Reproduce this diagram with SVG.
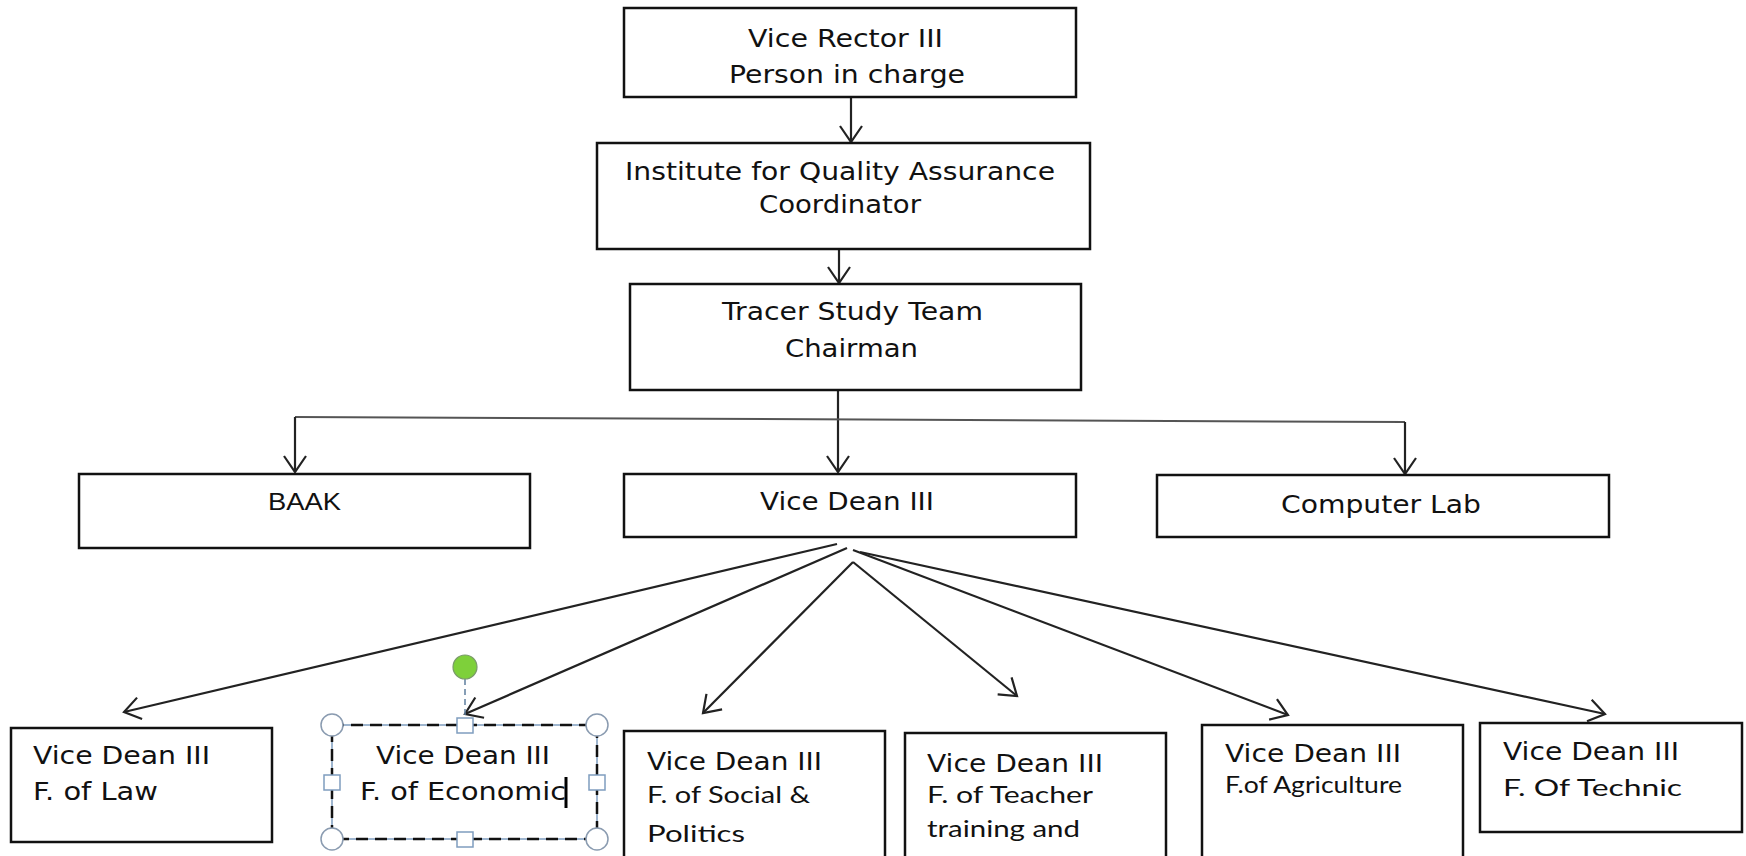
<svg xmlns="http://www.w3.org/2000/svg" width="1746" height="856" viewBox="0 0 1746 856" xml:space="preserve">
<style>
.box{fill:#fff;stroke:#111;stroke-width:2.5}
.t{font-family:"DejaVu Sans",Verdana,sans-serif;font-size:24px;fill:#111}
.c{font-family:Lato,"Open Sans",sans-serif;font-size:23px;fill:#111}
.a{font-family:"Liberation Sans",Arial,sans-serif;font-size:24px;fill:#111}
.ln{fill:none;stroke:#222;stroke-width:2.2}
.h{fill:#fff;stroke:#8a9bb0;stroke-width:1.5}
</style>
<defs>
<marker id="arr" markerUnits="userSpaceOnUse" markerWidth="22" markerHeight="28" viewBox="0 0 22 28" refX="19" refY="14" orient="auto">
<path d="M3,3 L19,14 L3,25" fill="none" stroke="#222" stroke-width="2.2"/>
</marker>
</defs>
<rect width="1746" height="856" fill="#fff"/>
<g id="connectors">
<line class="ln" x1="851" y1="97" x2="851" y2="142" marker-end="url(#arr)"/>
<line class="ln" x1="839" y1="249" x2="839" y2="283" marker-end="url(#arr)"/>
<line class="ln" x1="838" y1="390" x2="838" y2="472" marker-end="url(#arr)"/>
<path d="M295,417 L1405,422" fill="none" stroke="#555" stroke-width="2"/>
<line class="ln" x1="295" y1="417" x2="295" y2="472" marker-end="url(#arr)"/>
<line class="ln" x1="1405" y1="422" x2="1405" y2="474" marker-end="url(#arr)"/>
<line class="ln" x1="837" y1="544" x2="124" y2="712" marker-end="url(#arr)"/>
<line class="ln" x1="847" y1="548" x2="465" y2="714" marker-end="url(#arr)"/>
<line class="ln" x1="853" y1="562" x2="703" y2="713" marker-end="url(#arr)"/>
<line class="ln" x1="853" y1="562" x2="1017" y2="696" marker-end="url(#arr)"/>
<line class="ln" x1="853" y1="550" x2="1288" y2="715" marker-end="url(#arr)"/>
<line class="ln" x1="860" y1="552" x2="1605" y2="714" marker-end="url(#arr)"/>
</g>
<g id="vice-rector">
<rect class="box" x="624" y="8" width="452" height="89"/>
<text class="t" x="748" y="47" textLength="195" lengthAdjust="spacingAndGlyphs">Vice Rector  III</text>
<text class="t" x="729" y="83" textLength="236" lengthAdjust="spacingAndGlyphs">Person  in charge</text>
</g>
<g id="institute">
<rect class="box" x="597" y="143" width="493" height="106"/>
<text class="t" x="625" y="180" textLength="430" lengthAdjust="spacingAndGlyphs">Institute for Quality Assurance</text>
<text class="t" x="759" y="213" textLength="162" lengthAdjust="spacingAndGlyphs">Coordinator</text>
</g>
<g id="tracer">
<rect class="box" x="630" y="284" width="451" height="106"/>
<text class="t" x="722" y="320" textLength="261" lengthAdjust="spacingAndGlyphs">Tracer Study Team</text>
<text class="t" x="785" y="357" textLength="133" lengthAdjust="spacingAndGlyphs">Chairman</text>
</g>
<g id="baak">
<rect class="box" x="79" y="474" width="451" height="74"/>
<text class="a" x="268" y="510" textLength="73" lengthAdjust="spacingAndGlyphs">BAAK</text>
</g>
<g id="vice-dean">
<rect class="box" x="624" y="474" width="452" height="63"/>
<text class="t" x="760" y="510" textLength="174" lengthAdjust="spacingAndGlyphs">Vice Dean  III</text>
</g>
<g id="computer-lab">
<rect class="box" x="1157" y="475" width="452" height="62"/>
<text class="t" x="1281" y="513" textLength="200" lengthAdjust="spacingAndGlyphs">Computer  Lab</text>
</g>
<g id="law">
<rect class="box" x="11" y="728" width="261" height="114"/>
<text class="t" x="33" y="764" textLength="177" lengthAdjust="spacingAndGlyphs">Vice Dean  III</text>
<text class="t" x="33" y="800" textLength="125" lengthAdjust="spacingAndGlyphs">F. of Law</text>
</g>
<g id="economic">
<rect x="332" y="725" width="265" height="114" fill="#fff" stroke="#7f9dbf" stroke-width="1.5"/>
<rect x="332" y="725" width="265" height="114" fill="none" stroke="#111" stroke-width="2.5" stroke-dasharray="12,7"/>
<text class="t" x="376" y="764" textLength="174" lengthAdjust="spacingAndGlyphs">Vice Dean  III</text>
<text class="t" x="360" y="800" textLength="206" lengthAdjust="spacingAndGlyphs">F. of Economic</text>
<line x1="566" y1="777" x2="566" y2="808" stroke="#000" stroke-width="3"/>
<line x1="465" y1="679" x2="465" y2="718" stroke="#5f7f9f" stroke-width="1.5" stroke-dasharray="6,4"/>
<circle cx="465" cy="667" r="12" fill="#7ed03a" stroke="#7a9a6a" stroke-width="1.2"/>
<circle class="h" cx="332" cy="725" r="11"/>
<circle class="h" cx="597" cy="725" r="11"/>
<circle class="h" cx="332" cy="839" r="11"/>
<circle class="h" cx="597" cy="839" r="11"/>
<rect x="457" y="718" width="16" height="15" fill="#fff" stroke="#7f9dbf" stroke-width="1.5"/>
<rect x="457" y="832" width="16" height="15" fill="#fff" stroke="#7f9dbf" stroke-width="1.5"/>
<rect x="324" y="775" width="16" height="15" fill="#fff" stroke="#7f9dbf" stroke-width="1.5"/>
<rect x="589" y="775" width="16" height="15" fill="#fff" stroke="#7f9dbf" stroke-width="1.5"/>
</g>
<g id="social">
<rect class="box" x="624" y="731" width="261" height="140"/>
<text class="t" x="647" y="770" textLength="175" lengthAdjust="spacingAndGlyphs">Vice Dean  III</text>
<text class="c" x="647" y="803" textLength="163" lengthAdjust="spacingAndGlyphs">F. of Social &amp;</text>
<text class="c" x="647" y="842" textLength="98" lengthAdjust="spacingAndGlyphs">Politics</text>
</g>
<g id="teacher">
<rect class="box" x="905" y="733" width="261" height="140"/>
<text class="t" x="927" y="772" textLength="176" lengthAdjust="spacingAndGlyphs">Vice Dean  III</text>
<text class="c" x="927" y="803" textLength="166" lengthAdjust="spacingAndGlyphs">F. of Teacher</text>
<text class="c" x="927" y="837" textLength="153" lengthAdjust="spacingAndGlyphs">training and</text>
</g>
<g id="agriculture">
<rect class="box" x="1202" y="725" width="261" height="145"/>
<text class="t" x="1225" y="762" textLength="176" lengthAdjust="spacingAndGlyphs">Vice Dean  III</text>
<text class="c" x="1225" y="793" font-size="19" textLength="177" lengthAdjust="spacingAndGlyphs">F.of Agriculture</text>
</g>
<g id="technic">
<rect class="box" x="1480" y="723" width="262" height="109"/>
<text class="t" x="1503" y="760" textLength="176" lengthAdjust="spacingAndGlyphs">Vice Dean  III</text>
<text class="c" x="1503" y="796" textLength="179" lengthAdjust="spacingAndGlyphs">F. Of Technic</text>
</g>
</svg>
